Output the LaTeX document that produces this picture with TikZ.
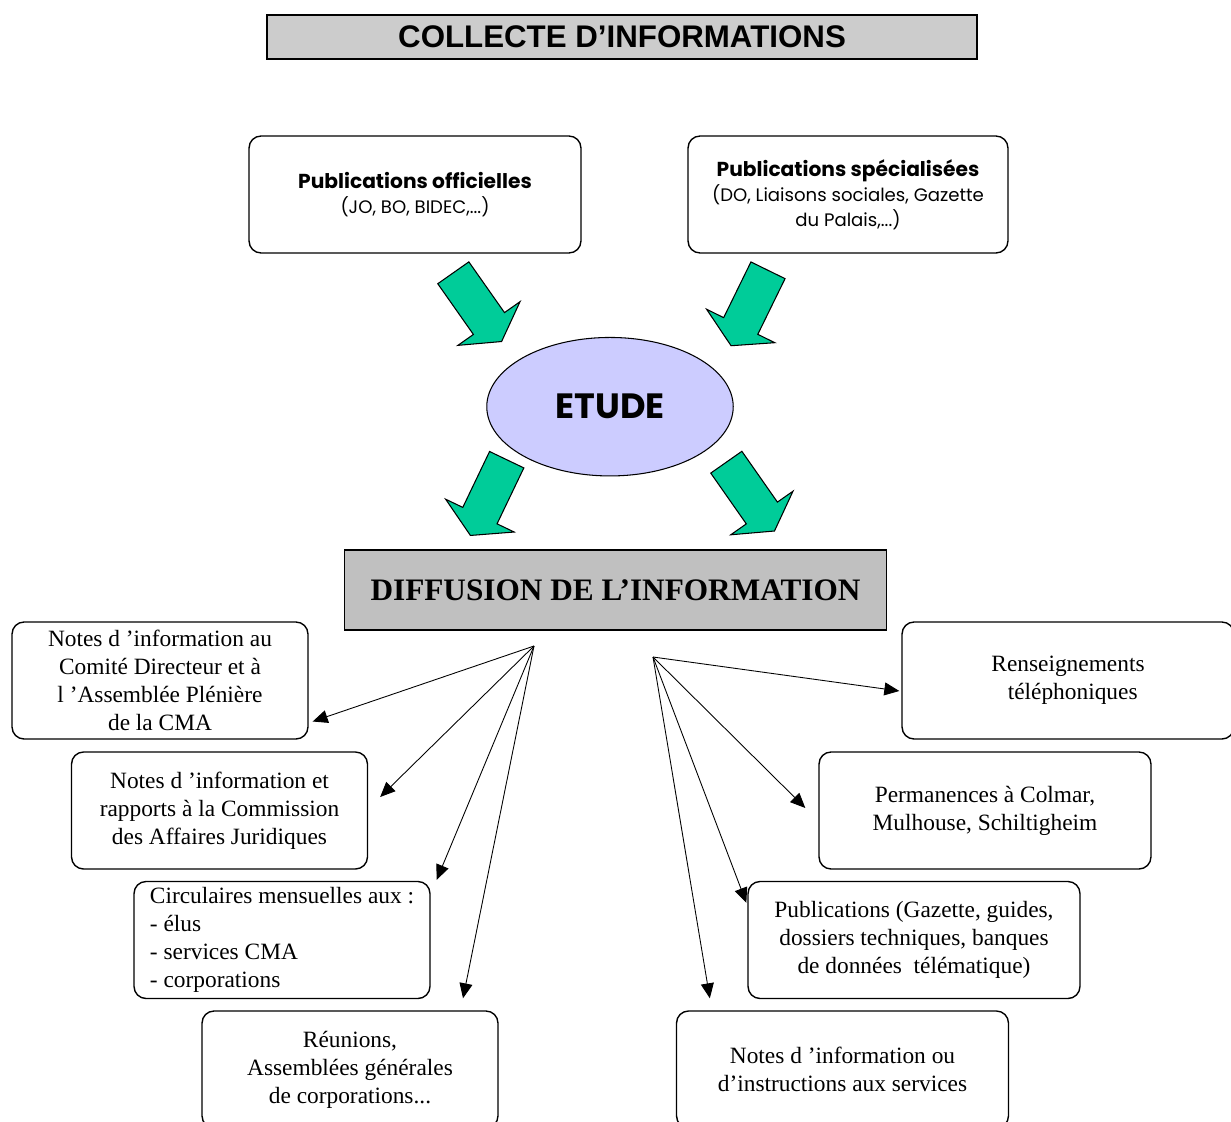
\documentclass[tikz,border=0pt]{standalone}
\usepackage{fontspec}
\setmainfont{Liberation Serif}
\newfontfamily\arialfont{Liberation Sans}
\newfontfamily\gothfont{Poppins}
\usetikzlibrary{arrows.meta,shapes.geometric}
\definecolor{vertfleche}{RGB}{0,204,153}
\definecolor{lavande}{RGB}{204,204,255}
\definecolor{grisclair}{RGB}{204,204,204}
\definecolor{grisfonce}{RGB}{192,192,192}

\tikzset{grossefleche/.pic={
  \draw[fill=vertfleche,line width=0.6pt] (0,-19) -- (62,-19) -- (62,-38) -- (84,0) -- (62,38) -- (62,19) -- (0,19) -- cycle;}}

\begin{document}
\begin{tikzpicture}[x=0.02cm,y=-0.02cm,
    boite/.style={draw,rounded corners=0.24cm,line width=0.8pt,minimum width=5.92cm,
      minimum height=2.34cm,align=center,inner sep=0pt,font=\fontsize{13.3}{15.9}\selectfont},
    large/.style={boite,minimum width=6.64cm},
    pub/.style={boite,minimum width=6.64cm,font=\gothfont\fontsize{10.3}{14.2}\selectfont},
    fleche/.style={-{Triangle[length=0.3cm,width=0.26cm]},line width=0.5pt}]
  \useasboundingbox (0,0) rectangle (1231,1122);
  \clip (0,0) rectangle (1231,1122);

  \node[draw,line width=1.2pt,fill=grisclair,minimum width=14.2cm,minimum height=0.88cm,
    font=\arialfont\bfseries\fontsize{17.8}{20}\selectfont] (collecte) at (622,37) {COLLECTE D’INFORMATIONS};

  \node[pub] (pubo) at (415,194.5) {{\bfseries\fontsize{11.5}{14}\selectfont Publications officielles}\\(JO, BO, BIDEC,...)};
  \node[pub,minimum width=6.4cm] (pubs) at (848,194.5) {{\bfseries\fontsize{11.5}{14}\selectfont Publications spécialisées}\\(DO, Liaisons sociales, Gazette\\du Palais,...)};

  \node[ellipse,draw,fill=lavande,line width=0.6pt,minimum width=4.93cm,minimum height=2.77cm,
    font=\gothfont\bfseries\fontsize{20}{24}\selectfont] (etude) at (610,406.7) {ETUDE};

  \pic[rotate=-54.9] at (453.3,272.8) {grossefleche};
  \pic[rotate=-116.1] at (768,270.3) {grossefleche};
  \pic[rotate=-115.6] at (506.7,459.7) {grossefleche};
  \pic[rotate=-55] at (726.3,462.2) {grossefleche};

  \node[draw,line width=0.6pt,fill=grisfonce,minimum width=10.86cm,minimum height=1.6cm,
    font=\bfseries\fontsize{17.8}{20}\selectfont] (diffusion) at (615.5,590) {DIFFUSION DE L’INFORMATION};

  % cote gauche
  \node[boite] (comite) at (160,680.5) {Notes d ’information au\\Comité Directeur et à\\l ’Assemblée Plénière\\de la CMA};
  \node[boite] (commission) at (219.5,810.5) {Notes d ’information et\\rapports à la Commission\\des Affaires Juridiques};
  \node[boite,align=left] (circulaires) at (282,940) {Circulaires mensuelles aux :\\- élus\\- services CMA\\- corporations};
  \node[boite] (reunions) at (350,1069.5) {Réunions,\\Assemblées générales\\de corporations...};

  % cote droit
  \node[large] (renseignements) at (1068,680.5) {Renseignements\\\hspace*{0.4em}téléphoniques};
  \node[large] (permanences) at (985,810.5) {Permanences à Colmar,\\Mulhouse, Schiltigheim};
  \node[large] (publications) at (914,940) {Publications (Gazette, guides,\\dossiers techniques, banques\\de données \ télématique)};
  \node[large] (services) at (842.5,1069.5) {Notes d ’information ou\\d’instructions aux services};

  \coordinate (fanL) at (534,646);
  \coordinate (fanR) at (653,657);
  \draw[fleche] (fanL) -- ([shift={(4,41)}]comite.east);
  \draw[fleche] (fanL) -- ([shift={(12,-13.5)}]commission.east);
  \draw[fleche] (fanL) -- ([shift={(6,-1)}]circulaires.north east);
  \draw[fleche] (fanL) -- ([shift={(113,-12)}]reunions.north);
  \draw[fleche] (fanR) -- ([shift={(-2,10.5)}]renseignements.west);
  \draw[fleche] (fanR) -- ([shift={(-13,-2.5)}]permanences.west);
  \draw[fleche] (fanR) -- ([shift={(-1,22)}]publications.north west);
  \draw[fleche] (fanR) -- ([shift={(34,-12)}]services.north west);
\end{tikzpicture}
\end{document}
